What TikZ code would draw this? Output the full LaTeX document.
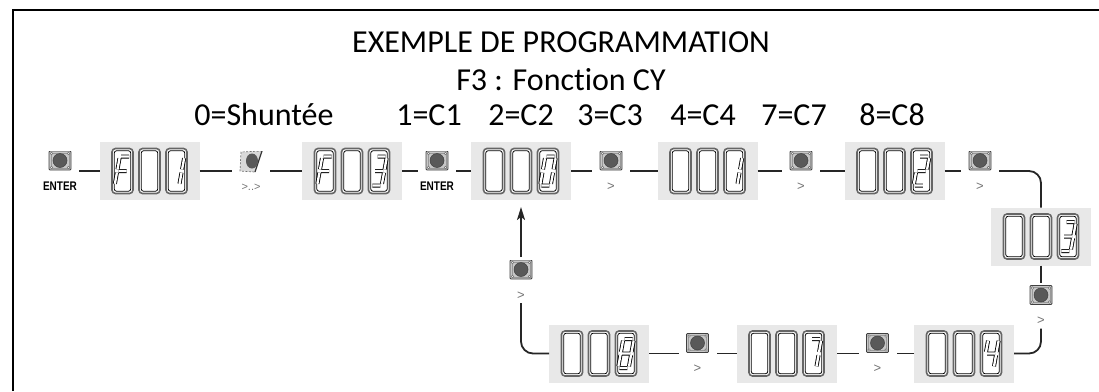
\documentclass[tikz,border=0pt]{standalone}
\usepackage{fontspec}
\setmainfont{Carlito}[Ligatures=NoCommon]
\newfontfamily\keyfont{Liberation Sans}
\usepackage{tikz}
\usetikzlibrary{positioning, arrows.meta}

% segments of one digit
\newcommand\sgA{(-4,14.5) -- (4,14.5)}
\newcommand\sgB{(5.3,12.8) -- (5.3,1.6)}
\newcommand\sgC{(5.3,-1.6) -- (5.3,-12.8)}
\newcommand\sgD{(-4,-14.5) -- (4,-14.5)}
\newcommand\sgE{(-5.3,-1.6) -- (-5.3,-12.8)}
\newcommand\sgF{(-5.3,12.8) -- (-5.3,1.6)}
\newcommand\sgG{(-4,0) -- (4,0)}
\newcommand\lcd[2]{\draw[lcdseg, shift={(#1)}] #2;}

% text under a key
\newcommand\keytext[1]{\smash{\raisebox{-19pt}{\makebox[0pt]{#1}}}}
\newcommand\enterlbl{\keytext{\keyfont\bfseries\fontsize{12.5}{13}\selectfont\scalebox{0.8}[1]{ENTER}}}
\newcommand\nextlbl{\keytext{\keyfont\fontsize{13}{14}\selectfont\textcolor{black!55}{>}}}
\newcommand\holdlbl{\keytext{\keyfont\fontsize{11}{12}\selectfont\textcolor{black!55}{>..>}}}

\begin{document}
\begin{tikzpicture}[x=1pt, y=1pt]
  \tikzstyle{head} = [font=\fontsize{32}{38}\selectfont, inner sep=0pt, anchor=base]
  \tikzstyle{link} = [line width=1.8pt, draw=black!85]
  \tikzstyle{lcdseg} = [draw=black, line width=0.85pt, double=white, double distance=2.3pt, xslant=0.18]
  \tikzstyle{keybase} = [rectangle, minimum width=24pt, minimum height=40pt, inner sep=0pt, outer xsep=7pt, outer ysep=3pt]
  \tikzstyle{key} = [keybase, path picture={
    \begin{scope}[shift={(path picture bounding box.center)}]
      \draw[draw=black!75, fill=black!22, line width=0.8pt, rounded corners=1pt] (-11,1) rectangle (11,20);
      \draw[draw=black!40, line width=0.4pt] (-9,3) rectangle (9,18);
      \draw[black!75, fill=black!65, line width=0.5pt] (0,10.5) circle (7);
      \foreach \u/\v in {-8.5/3.5, 8.5/3.5, -8.5/17.5, 8.5/17.5}
        \draw[black!60, line width=0.4pt, fill=black!8] (\u,\v) circle (1.3);
    \end{scope}}]
  \tikzstyle{keyhold} = [keybase, path picture={
    \begin{scope}[shift={(path picture bounding box.center)}]
      \fill[black!15] (-10,19) -- (11,20) -- (4,-1) -- (-11,0) -- cycle;
      \draw[black!55, dash pattern=on 2pt off 1.5pt, line width=0.7pt] (11,20) -- (-10,19) -- (-11,0) -- (4,-1);
      \draw[black!80, line width=1.2pt] (11,20) -- (4,-1);
      \fill[black!65, rotate around={-20:(1,10)}] (1,10) ellipse (6 and 7.5);
    \end{scope}}]
  \tikzstyle{disp} = [rectangle, fill=black!9, minimum width=100pt, minimum height=58pt, inner sep=0pt, outer sep=0pt, path picture={
    \begin{scope}[shift={(path picture bounding box.center)}]
      \foreach \cx in {-27,0,27} {
        \draw[black!60, line width=1.6pt, fill=white, rounded corners=3.5pt] (\cx-10.5,-22.5) rectangle (\cx+10.5,22.5);
        \draw[black, line width=0.8pt, rounded corners=2.5pt] (\cx-8.3,-20.3) rectangle (\cx+8.3,20.3);
      }
    \end{scope}}]

  \useasboundingbox (0,0) rectangle (1099,-391);
  \draw[line width=1.5pt] (13,-391) |- (1099,-10);

  % Titles
  \node[head] (ttl) at (561,-52) {EXEMPLE DE PROGRAMMATION};
  \node[head] (sub) at (561,-90) {F3 : Fonction CY};
  \foreach \x/\t [count=\i] in {264/0=Shuntée, 429/1=C1, 521/2=C2, 610/3=C3, 703/4=C4, 794/7=C7, 892/8=C8}
    \node[head] (val\i) at (\x,-125) {\t};

  % Define nodes
  \node[key] (k1) at (60,-171) {\enterlbl};
  \node[disp, right=20.5pt of k1] (f01) {};
  \node[keyhold, right=32.5pt of f01] (hold) {\holdlbl};
  \node[disp, right=32pt of hold] (f03) {};
  \node[key, right=16pt of f03] (k2) {\enterlbl};
  \node[disp, right=15pt of k2] (d0) {};
  \node[key, right=21pt of d0] (k3) {\nextlbl};
  \node[disp, right=27.5pt of k3] (d1) {};
  \node[key, right=24.5pt of d1] (k4) {\nextlbl};
  \node[disp, right=24.5pt of k4] (d2) {};
  \node[key, right=16.5pt of d2] (k5) {\nextlbl};
  \node[disp] (d3) at ([xshift=61pt, yshift=-65.5pt]k5.center) {};
  \node[key, below=17pt of d3] (k6) {\nextlbl};
  \node[disp] (d4) at ([xshift=-77pt, yshift=-48pt]k6.center) {};
  \node[key, left=17.5pt of d4] (k7) {\nextlbl};
  \node[disp, left=22pt of k7] (d7) {};
  \node[key, left=20pt of d7] (k8) {\nextlbl};
  \node[disp, left=29.5pt of k8] (d8) {};
  \node[key, below=57pt of d0] (k9) {\nextlbl};

  % Digits
  \lcd{[xshift=-27pt]f01.center}{\sgA\sgF\sgE\sgG}
  \lcd{[xshift=27pt]f01.center}{\sgB\sgC}
  \lcd{[xshift=-27pt]f03.center}{\sgA\sgF\sgE\sgG}
  \lcd{[xshift=27pt]f03.center}{\sgA\sgB\sgG\sgC\sgD}
  \lcd{[xshift=27pt]d0.center}{\sgA\sgB\sgC\sgD\sgE\sgF}
  \lcd{[xshift=27pt]d1.center}{\sgB\sgC}
  \lcd{[xshift=27pt]d2.center}{\sgA\sgB\sgG\sgE\sgD}
  \lcd{[xshift=27pt]d3.center}{\sgA\sgB\sgG\sgC\sgD}
  \lcd{[xshift=27pt]d4.center}{\sgF\sgG\sgB\sgC}
  \lcd{[xshift=27pt]d7.center}{\sgA\sgB\sgC}
  \lcd{[xshift=27pt]d8.center}{\sgA\sgB\sgC\sgD\sgE\sgF\sgG}

  % Connectors
  \draw[link] (k1) -- (f01);
  \draw[link] (f01) -- (hold);
  \draw[link] (hold) -- (f03);
  \draw[link] (f03) -- (k2);
  \draw[link] (k2) -- (d0);
  \draw[link] (d0) -- (k3);
  \draw[link] (k3) -- (d1);
  \draw[link] (d1) -- (k4);
  \draw[link] (k4) -- (d2);
  \draw[link] (d2) -- (k5);
  \draw[link, rounded corners=12pt] (k5) -| (d3);
  \draw[link] (d3) -- (k6);
  \draw[link, rounded corners=12pt] (k6) |- (d4);
  \draw[link] (d4) -- (k7);
  \draw[link] (k7) -- (d7);
  \draw[link] (d7) -- (k8);
  \draw[link] (k8) -- (d8);
  \draw[link, rounded corners=12pt] (d8) -| (k9);
  \draw[link, -{Stealth[length=13pt, width=8pt, inset=3pt]}, shorten >=7pt] (k9) -- (d0);
\end{tikzpicture}
\end{document}
